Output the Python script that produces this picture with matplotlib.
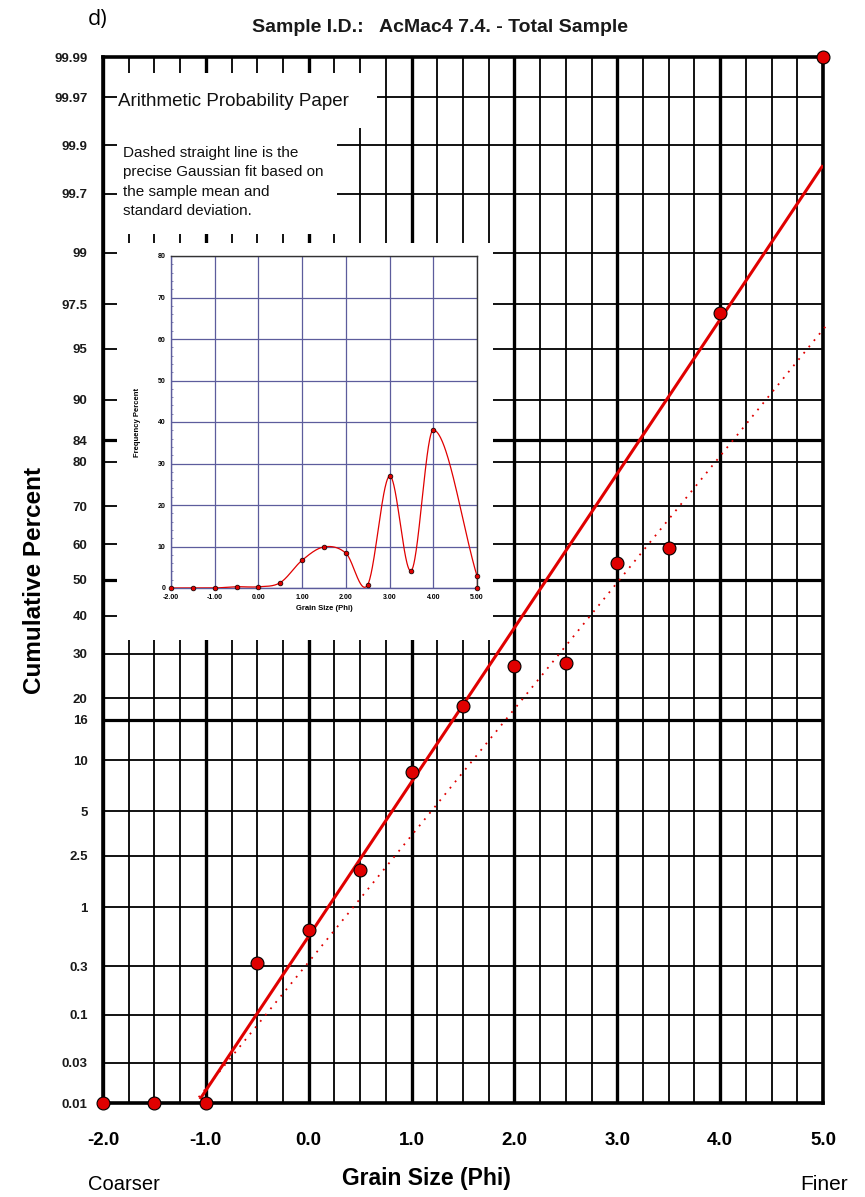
import numpy as np
import matplotlib
matplotlib.use("Agg")
import matplotlib.pyplot as plt
from matplotlib import font_manager
from matplotlib.patches import Rectangle
from statistics import NormalDist

# grain size classes (phi) and cumulative percent finer-than
phi = [-2.0, -1.5, -1.0, -0.5, 0.0, 0.5, 1.0, 1.5, 2.0, 2.5, 3.0, 3.5, 4.0, 5.0]
cum_pct = [0.01, 0.01, 0.01, 0.32, 0.64, 1.96, 8.6, 18.5, 27.0, 27.8, 54.8, 59.0, 97.1, 99.99]

# frequency percent per class (inset)
freq_pct = [0.0, 0.0, 0.0, 0.3, 0.3, 1.3, 6.7, 9.9, 8.4, 0.8, 27.0, 4.2, 38.1, 2.9]
pan_pct = 0.0

# probability axis ticks
prob_ticks = [0.01, 0.03, 0.1, 0.3, 1, 2.5, 5, 10, 16, 20, 30, 40, 50, 60, 70,
              80, 84, 90, 95, 97.5, 99, 99.7, 99.9, 99.97, 99.99]
prob_labels = ["0.01", "0.03", "0.1", "0.3", "1", "2.5", "5", "10", "16", "20", "30",
               "40", "50", "60", "70", "80", "84", "90", "95", "97.5", "99", "99.7",
               "99.9", "99.97", "99.99"]
phi_ticks = [-2, -1, 0, 1, 2, 3, 4, 5]
phi_labels = ["-2.0", "-1.0", "0.0", "1.0", "2.0", "3.0", "4.0", "5.0"]
inset_xlabels = ["-2.00", "-1.00", "0.00", "1.00", "2.00", "3.00", "4.00", "5.00"]

# straight lines on probability paper: (mean, sigma, phi start, phi end)
fit_line = (2.31, 0.912, -1.057, 5.0)
gauss_line = (3.02, 1.112, -1.07, 5.04)

avail = {f.name for f in font_manager.fontManager.ttflist}
narrow = "Liberation Sans Narrow" if "Liberation Sans Narrow" in avail else "Liberation Sans"
plt.rcParams["font.family"] = ["Liberation Sans", "DejaVu Sans"]

nd = NormalDist()


def pct_to_z(p):
    p = np.clip(np.asarray(p, dtype=float), 1e-4, 100 - 1e-4) / 100.0
    return np.vectorize(nd.inv_cdf, otypes=[float])(p)


def z_to_pct(z):
    return np.vectorize(lambda v: nd.cdf(v) * 100.0, otypes=[float])(np.asarray(z, dtype=float))


def smooth_curve(x, y, xs):
    # cubic Hermite through the points, Catmull-Rom style slopes
    x = np.asarray(x, float)
    y = np.asarray(y, float)
    n = len(x)
    m = np.empty(n)
    m[1:-1] = (y[2:] - y[:-2]) / (x[2:] - x[:-2])
    m[0] = (y[1] - y[0]) / (x[1] - x[0])
    m[-1] = (y[-1] - y[-2]) / (x[-1] - x[-2])
    idx = np.clip(np.searchsorted(x, xs) - 1, 0, n - 2)
    h = x[idx + 1] - x[idx]
    t = (xs - x[idx]) / h
    h00 = 2 * t**3 - 3 * t**2 + 1
    h10 = t**3 - 2 * t**2 + t
    h01 = -2 * t**3 + 3 * t**2
    h11 = t**3 - t**2
    return h00 * y[idx] + h10 * h * m[idx] + h01 * y[idx + 1] + h11 * h * m[idx + 1]


W, H = 865, 1197
fig = plt.figure(figsize=(W / 100, H / 100), dpi=100)


def fx(px):
    return px / W


def fy(py):
    return 1 - py / H


ax = fig.add_axes([fx(103), fy(1103), fx(823) - fx(103), fy(57) - fy(1103)])
ax.set_yscale("function", functions=(pct_to_z, z_to_pct))
ax.set_xlim(-2, 5)
ax.set_ylim(0.01, 99.99)

# grid of the probability paper
for g in np.arange(-2, 5.01, 0.25):
    heavy = abs(g - round(g)) < 1e-9
    ax.axvline(g, color="black", lw=2.4 if heavy else 1.3, zorder=1)
for p in prob_ticks:
    ax.axhline(p, color="black", lw=2.3 if p in (16, 50, 84) else 1.3, zorder=1)


# blank areas behind the note and the inset
def ax_x(px):
    return (px - 103) / 720


def ax_y(py):
    return (1103 - py) / 1046


for x0, y0, x1, y1 in [(117, 73, 337, 234), (337, 73, 377, 128), (117, 243, 493, 640)]:
    ax.add_patch(Rectangle((ax_x(x0), ax_y(y1)), ax_x(x1) - ax_x(x0), ax_y(y0) - ax_y(y1),
                           transform=ax.transAxes, facecolor="white", edgecolor="none", zorder=1.2))

for spine in ax.spines.values():
    spine.set_linewidth(2.6)
    spine.set_zorder(2.6)

# fitted straight lines
m, s, a, b = fit_line
ax.plot([a, b], [nd.cdf((a - m) / s) * 100, nd.cdf((b - m) / s) * 100],
        color="#e00000", lw=2.2, zorder=3, solid_capstyle="butt")
m, s, a, b = gauss_line
ax.plot([a, b], [nd.cdf((a - m) / s) * 100, nd.cdf((b - m) / s) * 100],
        color="#e00000", lw=1.3, ls=(0, (1, 3.5)), zorder=3, clip_on=False)

ax.plot(phi, cum_pct, "o", ms=9.3, mfc="#e00000", mec="black", mew=0.8, zorder=4, clip_on=False)

ax.set_xticks(phi_ticks)
ax.set_xticklabels(phi_labels, fontfamily=narrow, fontweight="bold", fontsize=13.5)
ax.set_yticks(prob_ticks)
ax.set_yticklabels(prob_labels, fontweight="bold", fontsize=9.5, color="#1a1a1a")
ax.yaxis.set_minor_locator(matplotlib.ticker.NullLocator())
ax.tick_params(axis="x", length=0, pad=21)
ax.tick_params(axis="y", length=0, pad=11)

# notes inside the chart
fig.text(fx(118), fy(101), "Arithmetic Probability Paper", fontsize=13.5, ha="left", va="center",
         color="#111111")
fig.text(fx(123), fy(182),
         "Dashed straight line is the\nprecise Gaussian fit based on\nthe sample mean and\nstandard deviation.",
         fontsize=11, ha="left", va="center", linespacing=1.5, color="#111111")

# inset: frequency curve
ins = fig.add_axes([fx(171), fy(588), fx(477) - fx(171), fy(256) - fy(588)])
ins.set_xlim(-2, 5)
ins.set_ylim(0, 80)
grid_blue = "#5c5c9c"
for g in range(-2, 6):
    ins.axvline(g, color=grid_blue, lw=0.9, zorder=1)
for g in range(0, 81, 10):
    ins.axhline(g, color=grid_blue, lw=0.9, zorder=1)
xs = np.linspace(phi[0], phi[-1], 700)
curve = np.clip(smooth_curve(phi, freq_pct, xs), 0, None)
ins.plot(xs, curve, color="#e00000", lw=0.9, zorder=3)
ins.plot([phi[-1], phi[-1]], [freq_pct[-1], pan_pct], color="#e00000", lw=0.9, zorder=3)
ins.plot(phi + [phi[-1]], freq_pct + [pan_pct], "o", ms=3.4, mfc="#e00000", mec="black",
         mew=0.5, zorder=4, clip_on=False)
ins.set_xticks(phi_ticks)
ins.set_xticklabels(inset_xlabels, fontsize=5, fontweight="bold")
ins.set_yticks(range(0, 81, 10))
ins.set_yticklabels([str(v) for v in range(0, 81, 10)], fontsize=5, fontweight="bold")
ins.set_yticks(range(0, 81, 2), minor=True)
ins.tick_params(length=0, pad=4)
ins.tick_params(axis="y", which="minor", length=1.5, width=0.5, color=grid_blue, direction="in")
ins.set_xlabel("Grain Size (Phi)", fontsize=5.5, fontweight="bold", labelpad=3)
ins.set_ylabel("Frequency Percent", fontsize=5.5, fontweight="bold", labelpad=12)
for k, spine in ins.spines.items():
    spine.set_linewidth(1.0)
    spine.set_color("#333333" if k in ("top", "right") else grid_blue)

# titles and axis captions
fig.text(fx(88), fy(19), "d)", fontsize=15.5, ha="left", va="center", fontfamily="Open Sans")
fig.text(fx(440), fy(28), "Sample I.D.:   AcMac4 7.4. - Total Sample", fontsize=14,
         fontweight="bold", fontfamily=narrow, ha="center", va="center", color="#1a1a1a")
fig.text(fx(35), fy(580), "Cumulative Percent", rotation=90, fontsize=17.5, fontweight="bold",
         ha="center", va="center")
fig.text(fx(426), fy(1179), "Grain Size (Phi)", fontsize=16.5, fontweight="bold",
         fontfamily=narrow, ha="center", va="center")
fig.text(fx(124), fy(1185), "Coarser", fontsize=14.5, fontfamily=narrow, ha="center", va="center")
fig.text(fx(824), fy(1185), "Finer", fontsize=15, fontfamily=narrow, ha="center", va="center")

fig.savefig("out.png", dpi=100, facecolor="white")
